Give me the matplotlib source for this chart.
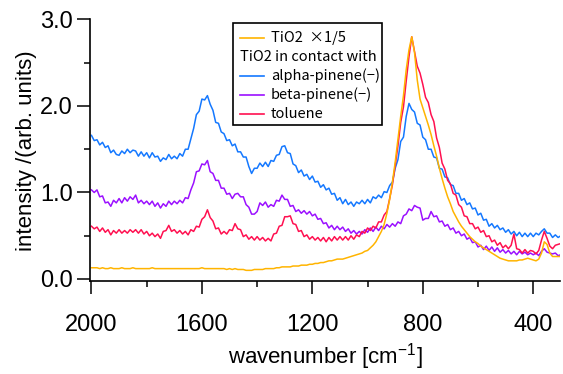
import numpy as np
import matplotlib
matplotlib.use('Agg')
import matplotlib.pyplot as plt
from matplotlib.patches import Rectangle
from matplotlib.lines import Line2D

# ── Data (step 10 cm-1 from 2000 down to 300) ─────────────────────────────────
wavenumber = np.arange(2000, 299, -10)

tio2 = [
    0.13, 0.13, 0.13, 0.12, 0.13, 0.12, 0.12, 0.13, 0.12, 0.12,
    0.12, 0.13, 0.12, 0.12, 0.12, 0.13, 0.12, 0.12, 0.12, 0.12,
    0.12, 0.12, 0.13, 0.12, 0.12, 0.12, 0.12, 0.12, 0.12, 0.12,
    0.12, 0.12, 0.12, 0.12, 0.12, 0.12, 0.12, 0.12, 0.12, 0.12,
    0.13, 0.12, 0.12, 0.12, 0.12, 0.12, 0.12, 0.12, 0.12, 0.11,
    0.12, 0.11, 0.12, 0.11, 0.11, 0.11, 0.10, 0.10, 0.10, 0.11,
    0.11, 0.11, 0.11, 0.12, 0.12, 0.12, 0.12, 0.13, 0.13, 0.14,
    0.14, 0.14, 0.14, 0.15, 0.15, 0.15, 0.16, 0.16, 0.16, 0.17,
    0.17, 0.18, 0.18, 0.19, 0.19, 0.20, 0.21, 0.21, 0.22, 0.23,
    0.23, 0.23, 0.24, 0.25, 0.26, 0.27, 0.28, 0.29, 0.30, 0.32,
    0.33, 0.36, 0.39, 0.43, 0.49, 0.55, 0.63, 0.76, 0.92, 1.12,
    1.35, 1.62, 1.88, 2.12, 2.42, 2.65, 2.80, 2.62, 2.30, 2.08,
    1.98, 1.88, 1.78, 1.67, 1.54, 1.42, 1.28, 1.16, 1.05, 0.95,
    0.87, 0.78, 0.72, 0.66, 0.61, 0.57, 0.53, 0.49, 0.46, 0.43,
    0.41, 0.38, 0.36, 0.34, 0.32, 0.30, 0.28, 0.26, 0.24, 0.23,
    0.22, 0.21, 0.21, 0.21, 0.21, 0.22, 0.22, 0.23, 0.24, 0.23,
    0.22, 0.21, 0.23, 0.30, 0.43, 0.40, 0.30, 0.26, 0.26, 0.26,
    0.26,
]

alpha_pinene = [
    1.66, 1.60, 1.61, 1.55, 1.58, 1.52, 1.54, 1.46, 1.49, 1.44,
    1.43, 1.48, 1.45, 1.50, 1.46, 1.49, 1.48, 1.42, 1.47, 1.42,
    1.46, 1.40, 1.46, 1.41, 1.42, 1.36, 1.40, 1.38, 1.44, 1.39,
    1.42, 1.39, 1.45, 1.42, 1.50, 1.50, 1.62, 1.74, 1.90, 1.94,
    2.08, 2.07, 2.12, 2.02, 1.95, 1.81, 1.80, 1.70, 1.68, 1.60,
    1.61, 1.54, 1.56, 1.47, 1.47, 1.41, 1.41, 1.30, 1.22, 1.28,
    1.28, 1.34, 1.30, 1.35, 1.30, 1.37, 1.36, 1.43, 1.44, 1.53,
    1.54, 1.46, 1.45, 1.33, 1.31, 1.23, 1.26, 1.19, 1.21, 1.15,
    1.19, 1.12, 1.13, 1.06, 1.09, 1.03, 1.05, 0.98, 0.99, 0.91,
    0.94, 0.87, 0.92, 0.86, 0.89, 0.84, 0.89, 0.87, 0.91, 0.87,
    0.92, 0.88, 0.95, 0.93, 0.97, 0.94, 1.01, 1.00, 1.08, 1.12,
    1.28, 1.38, 1.59, 1.64, 1.88, 2.03, 1.96, 1.93, 1.80, 1.78,
    1.64, 1.61, 1.50, 1.50, 1.41, 1.40, 1.28, 1.27, 1.18, 1.17,
    1.09, 1.08, 0.99, 0.99, 0.91, 0.93, 0.86, 0.88, 0.81, 0.82,
    0.74, 0.76, 0.68, 0.69, 0.61, 0.64, 0.59, 0.62, 0.57, 0.59,
    0.54, 0.57, 0.52, 0.55, 0.50, 0.54, 0.49, 0.53, 0.49, 0.53,
    0.49, 0.53, 0.51, 0.55, 0.58, 0.53, 0.53, 0.48, 0.51, 0.48,
    0.50,
]

beta_pinene = [
    1.03, 1.00, 1.03, 0.95, 0.96, 0.88, 0.89, 0.84, 0.91, 0.88,
    0.93, 0.88, 0.94, 0.90, 0.95, 0.92, 0.97, 0.88, 0.91, 0.87,
    0.90, 0.86, 0.90, 0.84, 0.88, 0.82, 0.87, 0.84, 0.90, 0.86,
    0.90, 0.87, 0.91, 0.88, 0.94, 0.93, 1.03, 1.11, 1.24, 1.25,
    1.33, 1.32, 1.37, 1.24, 1.22, 1.14, 1.14, 1.05, 1.05, 0.98,
    0.99, 0.93, 0.98, 0.99, 0.95, 0.95, 0.86, 0.83, 0.75, 0.75,
    0.78, 0.88, 0.85, 0.89, 0.83, 0.86, 0.84, 0.91, 0.90, 0.97,
    0.92, 0.92, 0.84, 0.85, 0.78, 0.80, 0.76, 0.79, 0.75, 0.78,
    0.73, 0.75, 0.69, 0.70, 0.64, 0.65, 0.59, 0.62, 0.57, 0.61,
    0.57, 0.60, 0.55, 0.58, 0.53, 0.56, 0.52, 0.55, 0.52, 0.57,
    0.54, 0.59, 0.55, 0.60, 0.56, 0.61, 0.58, 0.63, 0.60, 0.64,
    0.61, 0.66, 0.64, 0.73, 0.75, 0.81, 0.79, 0.85, 0.83, 0.82,
    0.68, 0.70, 0.70, 0.78, 0.72, 0.73, 0.66, 0.67, 0.61, 0.63,
    0.57, 0.59, 0.53, 0.55, 0.50, 0.52, 0.46, 0.48, 0.42, 0.43,
    0.37, 0.39, 0.34, 0.38, 0.33, 0.37, 0.32, 0.36, 0.31, 0.34,
    0.30, 0.33, 0.29, 0.32, 0.28, 0.32, 0.29, 0.31, 0.28, 0.30,
    0.28, 0.30, 0.27, 0.32, 0.35, 0.31, 0.30, 0.29, 0.30, 0.27,
    0.28,
]

toluene = [
    0.61, 0.58, 0.60, 0.55, 0.59, 0.54, 0.57, 0.51, 0.56, 0.53,
    0.57, 0.53, 0.56, 0.53, 0.57, 0.54, 0.57, 0.53, 0.57, 0.52,
    0.55, 0.50, 0.53, 0.49, 0.52, 0.47, 0.55, 0.56, 0.62, 0.55,
    0.57, 0.53, 0.56, 0.52, 0.55, 0.51, 0.57, 0.55, 0.61, 0.60,
    0.69, 0.72, 0.80, 0.71, 0.67, 0.58, 0.59, 0.52, 0.55, 0.52,
    0.57, 0.56, 0.64, 0.58, 0.57, 0.49, 0.51, 0.46, 0.49, 0.45,
    0.49, 0.45, 0.48, 0.44, 0.47, 0.44, 0.52, 0.53, 0.61, 0.62,
    0.72, 0.72, 0.73, 0.64, 0.63, 0.55, 0.56, 0.49, 0.51, 0.46,
    0.49, 0.45, 0.48, 0.44, 0.48, 0.43, 0.48, 0.44, 0.49, 0.45,
    0.49, 0.45, 0.49, 0.45, 0.50, 0.46, 0.51, 0.49, 0.55, 0.53,
    0.59, 0.56, 0.61, 0.59, 0.66, 0.66, 0.74, 0.78, 0.93, 1.09,
    1.31, 1.54, 1.81, 1.99, 2.29, 2.57, 2.80, 2.63, 2.46, 2.38,
    2.25, 2.10, 2.04, 1.90, 1.82, 1.63, 1.52, 1.34, 1.27, 1.14,
    1.10, 0.99, 0.97, 0.86, 0.83, 0.73, 0.72, 0.64, 0.64, 0.58,
    0.60, 0.54, 0.56, 0.49, 0.50, 0.43, 0.45, 0.39, 0.42, 0.36,
    0.39, 0.35, 0.39, 0.52, 0.35, 0.34, 0.30, 0.34, 0.30, 0.33,
    0.32, 0.29, 0.33, 0.45, 0.55, 0.47, 0.38, 0.35, 0.39, 0.40,
    0.41,
]

# ── Style ──────────────────────────────────────────────────────────────────────
C_TIO2  = '#FFB400'
C_ALPHA = '#1478FF'
C_BETA  = '#9B10FF'
C_TOL   = '#FF1050'

TICK_FONT  = ['Liberation Sans Narrow', 'Liberation Sans', 'DejaVu Sans']
LABEL_FONT = ['Liberation Sans', 'DejaVu Sans']
LEG_FONT   = ['Noto Sans CJK JP', 'DejaVu Sans']

plt.rcParams['mathtext.fontset'] = 'custom'
plt.rcParams['mathtext.rm'] = 'Liberation Sans'
plt.rcParams['mathtext.it'] = 'Liberation Sans'

fig = plt.figure(figsize=(5.63, 3.74), dpi=100)
ax = fig.add_axes([0.160, 0.2487, 0.8347, 0.6992])

ax.plot(wavenumber, alpha_pinene, color=C_ALPHA, lw=1.1)
ax.plot(wavenumber, beta_pinene, color=C_BETA, lw=1.1)
ax.plot(wavenumber, toluene, color=C_TOL, lw=1.1)
ax.plot(wavenumber, tio2, color=C_TIO2, lw=1.1)

ax.set_xlim(2005, 303)
ax.set_ylim(-0.023, 3.0)

ax.spines['top'].set_visible(False)
ax.spines['right'].set_visible(False)
for s in ('left', 'bottom'):
    ax.spines[s].set_linewidth(1.2)

ax.set_xticks([2000, 1600, 1200, 800, 400])
ax.set_xticks([1800, 1400, 1000, 600], minor=True)
ax.set_yticks([0, 1, 2, 3])
ax.set_yticklabels(['0.0', '1.0', '2.0', '3.0'])
ax.set_yticks([0.5, 1.5, 2.5], minor=True)
ax.tick_params(which='major', direction='out', length=9.5, width=1.1, pad=3)
ax.tick_params(which='minor', direction='out', length=4.5, width=1.1)
ax.tick_params(axis='x', which='major', pad=14)
for lab in ax.get_xticklabels() + ax.get_yticklabels():
    lab.set_family(TICK_FONT)
    lab.set_fontsize(17)

ax.set_xlabel('wavenumber [cm$^{-1}$]', family=LABEL_FONT, fontsize=16, labelpad=4)
ax.set_ylabel('intensity /(arb. units)', family=LABEL_FONT, fontsize=16, labelpad=2)

# ── Legend box (drawn by hand: one row has no line sample) ────────────────────
ax.add_patch(Rectangle((0.304, 0.597), 0.317, 0.390, transform=ax.transAxes,
                       facecolor='white', edgecolor='black', lw=1.2, zorder=5))
rows = [
    ('TiO2  \u00d71/5', C_TIO2),
    ('TiO2 in contact with', None),
    ('alpha-pinene(\u2212)', C_ALPHA),
    ('beta-pinene(\u2212)', C_BETA),
    ('toluene', C_TOL),
]
row_y = [0.929, 0.857, 0.784, 0.711, 0.639]
for (label, color), y in zip(rows, row_y):
    if color is None:
        ax.text(0.319, y, label, transform=ax.transAxes, va='center', ha='left',
                family=LEG_FONT, fontsize=10.5, zorder=6)
    else:
        ax.add_line(Line2D([0.319, 0.370], [y, y], transform=ax.transAxes,
                           color=color, lw=1.2, zorder=6))
        ax.text(0.385, y, label, transform=ax.transAxes, va='center', ha='left',
                family=LEG_FONT, fontsize=10.5, zorder=6)

fig.savefig('out.png', dpi=100)
